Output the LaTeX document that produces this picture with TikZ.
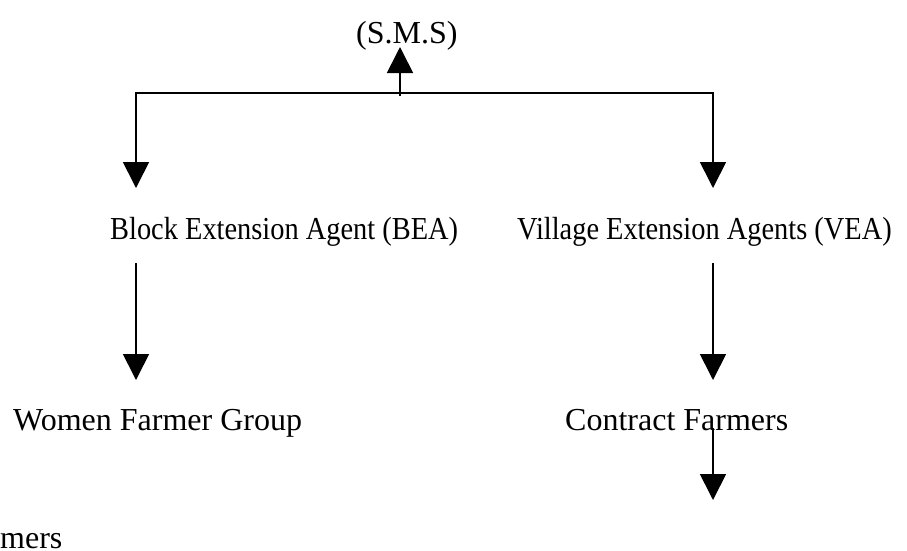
\documentclass[tikz,border=0pt]{standalone}
\usepackage{fontspec}
\setmainfont{Liberation Serif}
\usetikzlibrary{arrows.meta}
\begin{document}
\begin{tikzpicture}[x=1pt,y=-1pt,
  lbl/.style={inner sep=0pt, anchor=base west, font=\fontsize{32}{38}\selectfont},
  conn/.style={line width=1.7pt, line join=miter},
  tipshape/.tip={Triangle[width=26pt,length=26pt]},
  arr/.style={conn, -tipshape}]
\useasboundingbox (0,0) rectangle (907,550);
% texts
\node[lbl] (sms) at (356,43) {(S.M.S)};
\node[lbl] (bea) at (110,239) {\scalebox{0.8875}[1]{Block Extension Agent (BEA)}};
\node[lbl] (vea) at (517,239) {\scalebox{0.8875}[1]{Village Extension Agents (VEA)}};
\node[lbl] (wfg) at (13,430) {Women Farmer Group};
\node[lbl] (cf) at (565,430) {Contract Farmers};
\node[lbl] (far) at (-42.7,548) {Farmers};
% connector points
\coordinate (jn) at (400,96);
\coordinate (smstip) at (400,47);
\coordinate (lc) at (136,93);
\coordinate (rc) at (713,93);
\coordinate (ltip) at (136,188);
\coordinate (rtip) at (713,188);
\coordinate (bs) at (136,263);
\coordinate (btip) at (136,380);
\coordinate (vs) at (713,263);
\coordinate (vtip) at (713,380);
\coordinate (cs) at (713,428);
\coordinate (ctip) at (713,500);
% connectors
\draw[arr] (jn) -- (smstip);
\draw[conn, tipshape-tipshape] (ltip) -- (lc) -- (rc) -- (rtip);
\draw[arr] (bs) -- (btip);
\draw[arr] (vs) -- (vtip);
\draw[arr] (cs) -- (ctip);
\end{tikzpicture}
\end{document}
